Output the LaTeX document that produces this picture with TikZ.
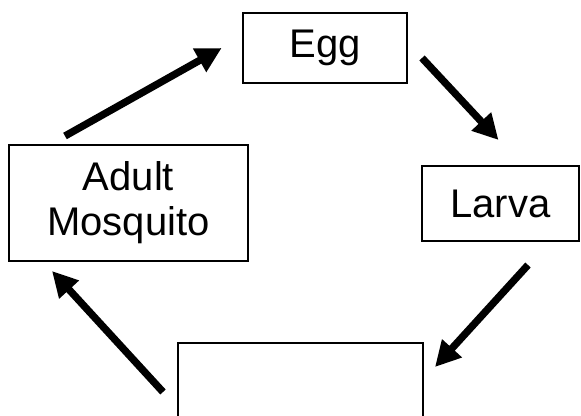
\documentclass[tikz,border=0pt]{standalone}
\usepackage{fontspec}
\setmainfont{Liberation Sans}
\usetikzlibrary{arrows.meta}
\tikzset{
  etapa/.style={draw=black, line width=1.5pt, inner sep=0pt, outer sep=0pt, align=center,
                font=\fontsize{30}{33.75}\selectfont},
  ciclo/.style={-{Triangle[length=19pt, width=19pt]}, black, line width=5.5pt},
}

\begin{document}
\begin{tikzpicture}[x=0.75pt, y=0.75pt]
  \useasboundingbox (0,0) rectangle (581,416);

  % ---------------- etapas ----------------
  \node[etapa, minimum width=123pt, minimum height=52.5pt] (egg) at (325,368) {Egg};
  \node[etapa, minimum width=117.75pt, minimum height=56.25pt] (larva) at (500.5,212.5) {Larva};
  \node[etapa, minimum width=179.25pt, minimum height=87pt] (adult) at (128.5,213) {Adult\\Mosquito};
  \node[etapa, minimum width=183.75pt, minimum height=75pt] (pupa) at (300.5,23) {};

  % ---------------- setas ----------------
  \draw[ciclo] ([shift={(56,9)}]adult.north west) -- ([xshift=-16]egg.west);
  \draw[ciclo] ([shift={(15,-10)}]egg.east) -- ([shift={(-2,26)}]larva.north);
  \draw[ciclo] ([shift={(27.5,-24)}]larva.south) -- ([shift={(12,-24)}]pupa.north east);
  \draw[ciclo] ([shift={(-15,-49)}]pupa.north west) -- ([shift={(43,-10)}]adult.south west);
\end{tikzpicture}
\end{document}
